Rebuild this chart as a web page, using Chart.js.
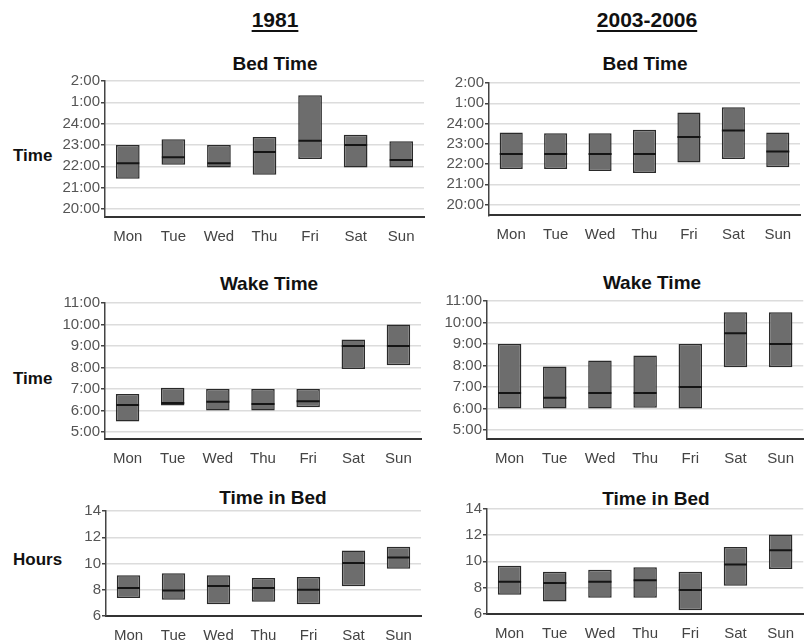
<!DOCTYPE html>
<html>
<head>
<meta charset="utf-8">
<script src="https://cdn.jsdelivr.net/npm/chart.js@4.4.0/dist/chart.umd.min.js"></script>
<style>
html,body{margin:0;padding:0;background:#fff;}
body{width:805px;height:642px;overflow:hidden;position:relative;font-family:"Liberation Sans",Arial,sans-serif;}
canvas{position:absolute;}
.hdr{position:absolute;width:200px;text-align:center;font-weight:bold;font-size:21px;line-height:21px;color:#111;text-decoration:underline;text-decoration-thickness:2px;text-underline-offset:3px;}
.ttl{position:absolute;width:200px;text-align:center;font-weight:bold;font-size:19px;line-height:19px;color:#111;}
.ylab{position:absolute;font-weight:bold;font-size:17px;line-height:17px;color:#111;}
</style>
</head>
<body>
<div class="hdr" style="left:175px;top:9px;">1981</div>
<div class="hdr" style="left:547px;top:9px;">2003-2006</div>
<div class="ylab" style="left:13px;top:147px;">Time</div>
<div class="ylab" style="left:13px;top:370px;">Time</div>
<div class="ylab" style="left:13px;top:551px;">Hours</div>
<script>
// ---- categories and tick labels ----
const days = ['Mon', 'Tue', 'Wed', 'Thu', 'Fri', 'Sat', 'Sun'];
const bedTickValues = [20, 21, 22, 23, 24, 25, 26];
const bedTickLabels = ['20:00', '21:00', '22:00', '23:00', '24:00', '1:00', '2:00'];
const wakeTickValues = [5, 6, 7, 8, 9, 10, 11];
const wakeTickLabels = ['5:00', '6:00', '7:00', '8:00', '9:00', '10:00', '11:00'];
const hoursTickValues = [6, 8, 10, 12, 14];
const hoursTickLabels = ['6', '8', '10', '12', '14'];

// ---- 1981: Bed Time (hours, 25 = 1:00) ----
const bed1981Low    = [21.42, 22.08, 21.94, 21.60, 22.34, 21.95, 21.95];
const bed1981High   = [23.00, 23.27, 23.00, 23.37, 25.33, 23.48, 23.17];
const bed1981Median = [22.15, 22.43, 22.15, 22.67, 23.20, 23.00, 22.30];
// ---- 2003-2006: Bed Time ----
const bed2003Low    = [21.75, 21.75, 21.66, 21.56, 22.07, 22.25, 21.84];
const bed2003High   = [23.56, 23.52, 23.52, 23.69, 24.54, 24.80, 23.56];
const bed2003Median = [22.50, 22.50, 22.50, 22.50, 23.33, 23.66, 22.62];
// ---- 1981: Wake Time ----
const wake1981Low    = [5.48, 6.23, 6.00, 6.00, 6.15, 7.93, 8.10];
const wake1981High   = [6.77, 7.06, 7.00, 7.00, 7.00, 9.30, 10.00];
const wake1981Median = [6.25, 6.35, 6.40, 6.30, 6.43, 9.00, 9.00];
// ---- 2003-2006: Wake Time ----
const wake2003Low    = [6.00, 6.00, 6.00, 6.03, 6.00, 7.92, 7.92];
const wake2003High   = [9.00, 7.95, 8.23, 8.47, 9.00, 10.48, 10.48];
const wake2003Median = [6.72, 6.50, 6.72, 6.72, 7.00, 9.50, 9.00];
// ---- 1981: Time in Bed (hours) ----
const tib1981Low    = [7.38, 7.23, 6.90, 7.08, 6.90, 8.26, 9.60];
const tib1981High   = [9.10, 9.26, 9.10, 8.90, 8.97, 11.00, 11.28];
const tib1981Median = [8.13, 7.95, 8.28, 8.13, 8.00, 10.03, 10.46];
// ---- 2003-2006: Time in Bed ----
const tib2003Low    = [7.43, 6.92, 7.20, 7.20, 6.25, 8.12, 9.40];
const tib2003High   = [9.65, 9.20, 9.35, 9.55, 9.20, 11.10, 12.05];
const tib2003Median = [8.43, 8.33, 8.43, 8.55, 7.80, 9.75, 10.85];

const FONT = '"Liberation Sans", Arial, sans-serif';
const TOPPAD = 20, XAXIS_H = 35;

function panel(p) {
  // title as real text
  const t = document.createElement('div');
  t.className = 'ttl';
  t.textContent = p.title;
  t.style.left = (p.titleX - 100) + 'px';
  t.style.top = (p.titleY - 9.5) + 'px';
  document.body.appendChild(t);

  const top = p.chartTop - TOPPAD;
  const c = document.createElement('canvas');
  c.width = p.w;
  c.height = Math.ceil(p.chartBottom + XAXIS_H - top);
  c.style.left = p.left + 'px'; c.style.top = top + 'px';
  document.body.appendChild(c);
  const padBottom = c.height - (p.chartBottom - top) - XAXIS_H;
  new Chart(c, {
    type: 'bar',
    data: {
      labels: days,
      datasets: [
        {
          type: 'line', data: p.median, showLine: false,
          pointStyle: 'line', pointRadius: 11.5, pointHoverRadius: 11.5,
          pointBorderWidth: 2, pointBorderColor: '#151515', borderColor: '#151515',
          order: 0
        },
        {
          type: 'bar', data: p.low.map((l, i) => [l, p.high[i]]),
          backgroundColor: '#6d6d6d', borderColor: '#2a2a2a', borderWidth: 1.5,
          borderSkipped: false, barPercentage: 0.52, categoryPercentage: 1,
          order: 1
        }
      ]
    },
    options: {
      responsive: false, animation: false, devicePixelRatio: 1,
      layout: { autoPadding: false, padding: { left: 0, right: p.left + p.w - p.chartRight, top: TOPPAD, bottom: padBottom } },
      plugins: { legend: { display: false }, tooltip: { enabled: false }, title: { display: false } },
      scales: {
        x: {
          grid: { display: false, drawTicks: false },
          border: { display: true, color: '#333', width: 2 },
          ticks: { color: '#444', font: { family: FONT, size: 15 }, padding: 11, autoSkip: false, maxRotation: 0 },
          afterFit: s => { s.height = XAXIS_H; }
        },
        y: {
          min: p.yMin, max: p.yMax,
          grid: { color: '#dcdcdc', lineWidth: 1.5, tickColor: '#444', tickLength: 4, drawTicks: true },
          border: { display: true, color: '#444', width: 1.5 },
          ticks: { color: '#555', font: { family: FONT, size: 15 }, padding: 1,
                   callback: (v, i) => p.tickLabels[i] },
          afterBuildTicks: a => { a.ticks = p.tickValues.map(v => ({ value: v })); },
          afterFit: s => { s.width = p.chartLeft - p.left; }
        }
      }
    }
  });
}

panel({ title: 'Bed Time', titleX: 275, titleY: 63,
  left: 0, w: 430, chartLeft: 105, chartRight: 424, chartTop: 81, chartBottom: 217,
  low: bed1981Low, high: bed1981High, median: bed1981Median, yMin: 19.625, yMax: 26,
  tickValues: bedTickValues, tickLabels: bedTickLabels });
panel({ title: 'Bed Time', titleX: 645, titleY: 63.5,
  left: 430, w: 375, chartLeft: 489, chartRight: 800, chartTop: 82.7, chartBottom: 215,
  low: bed2003Low, high: bed2003High, median: bed2003Median, yMin: 19.47, yMax: 26,
  tickValues: bedTickValues, tickLabels: bedTickLabels });
panel({ title: 'Wake Time', titleX: 269, titleY: 283,
  left: 0, w: 430, chartLeft: 105, chartRight: 421, chartTop: 303, chartBottom: 439,
  low: wake1981Low, high: wake1981High, median: wake1981Median, yMin: 4.67, yMax: 11,
  tickValues: wakeTickValues, tickLabels: wakeTickLabels });
panel({ title: 'Wake Time', titleX: 652, titleY: 282.5,
  left: 430, w: 375, chartLeft: 487, chartRight: 805, chartTop: 301, chartBottom: 439,
  low: wake2003Low, high: wake2003High, median: wake2003Median, yMin: 4.58, yMax: 11,
  tickValues: wakeTickValues, tickLabels: wakeTickLabels });
panel({ title: 'Time in Bed', titleX: 273, titleY: 497,
  left: 0, w: 430, chartLeft: 106, chartRight: 421, chartTop: 511, chartBottom: 616,
  low: tib1981Low, high: tib1981High, median: tib1981Median, yMin: 6, yMax: 14,
  tickValues: hoursTickValues, tickLabels: hoursTickLabels });
panel({ title: 'Time in Bed', titleX: 656, titleY: 498,
  left: 430, w: 375, chartLeft: 487, chartRight: 805, chartTop: 508.5, chartBottom: 613,
  low: tib2003Low, high: tib2003High, median: tib2003Median, yMin: 6, yMax: 14,
  tickValues: hoursTickValues, tickLabels: hoursTickLabels });
</script>
</body>
</html>
